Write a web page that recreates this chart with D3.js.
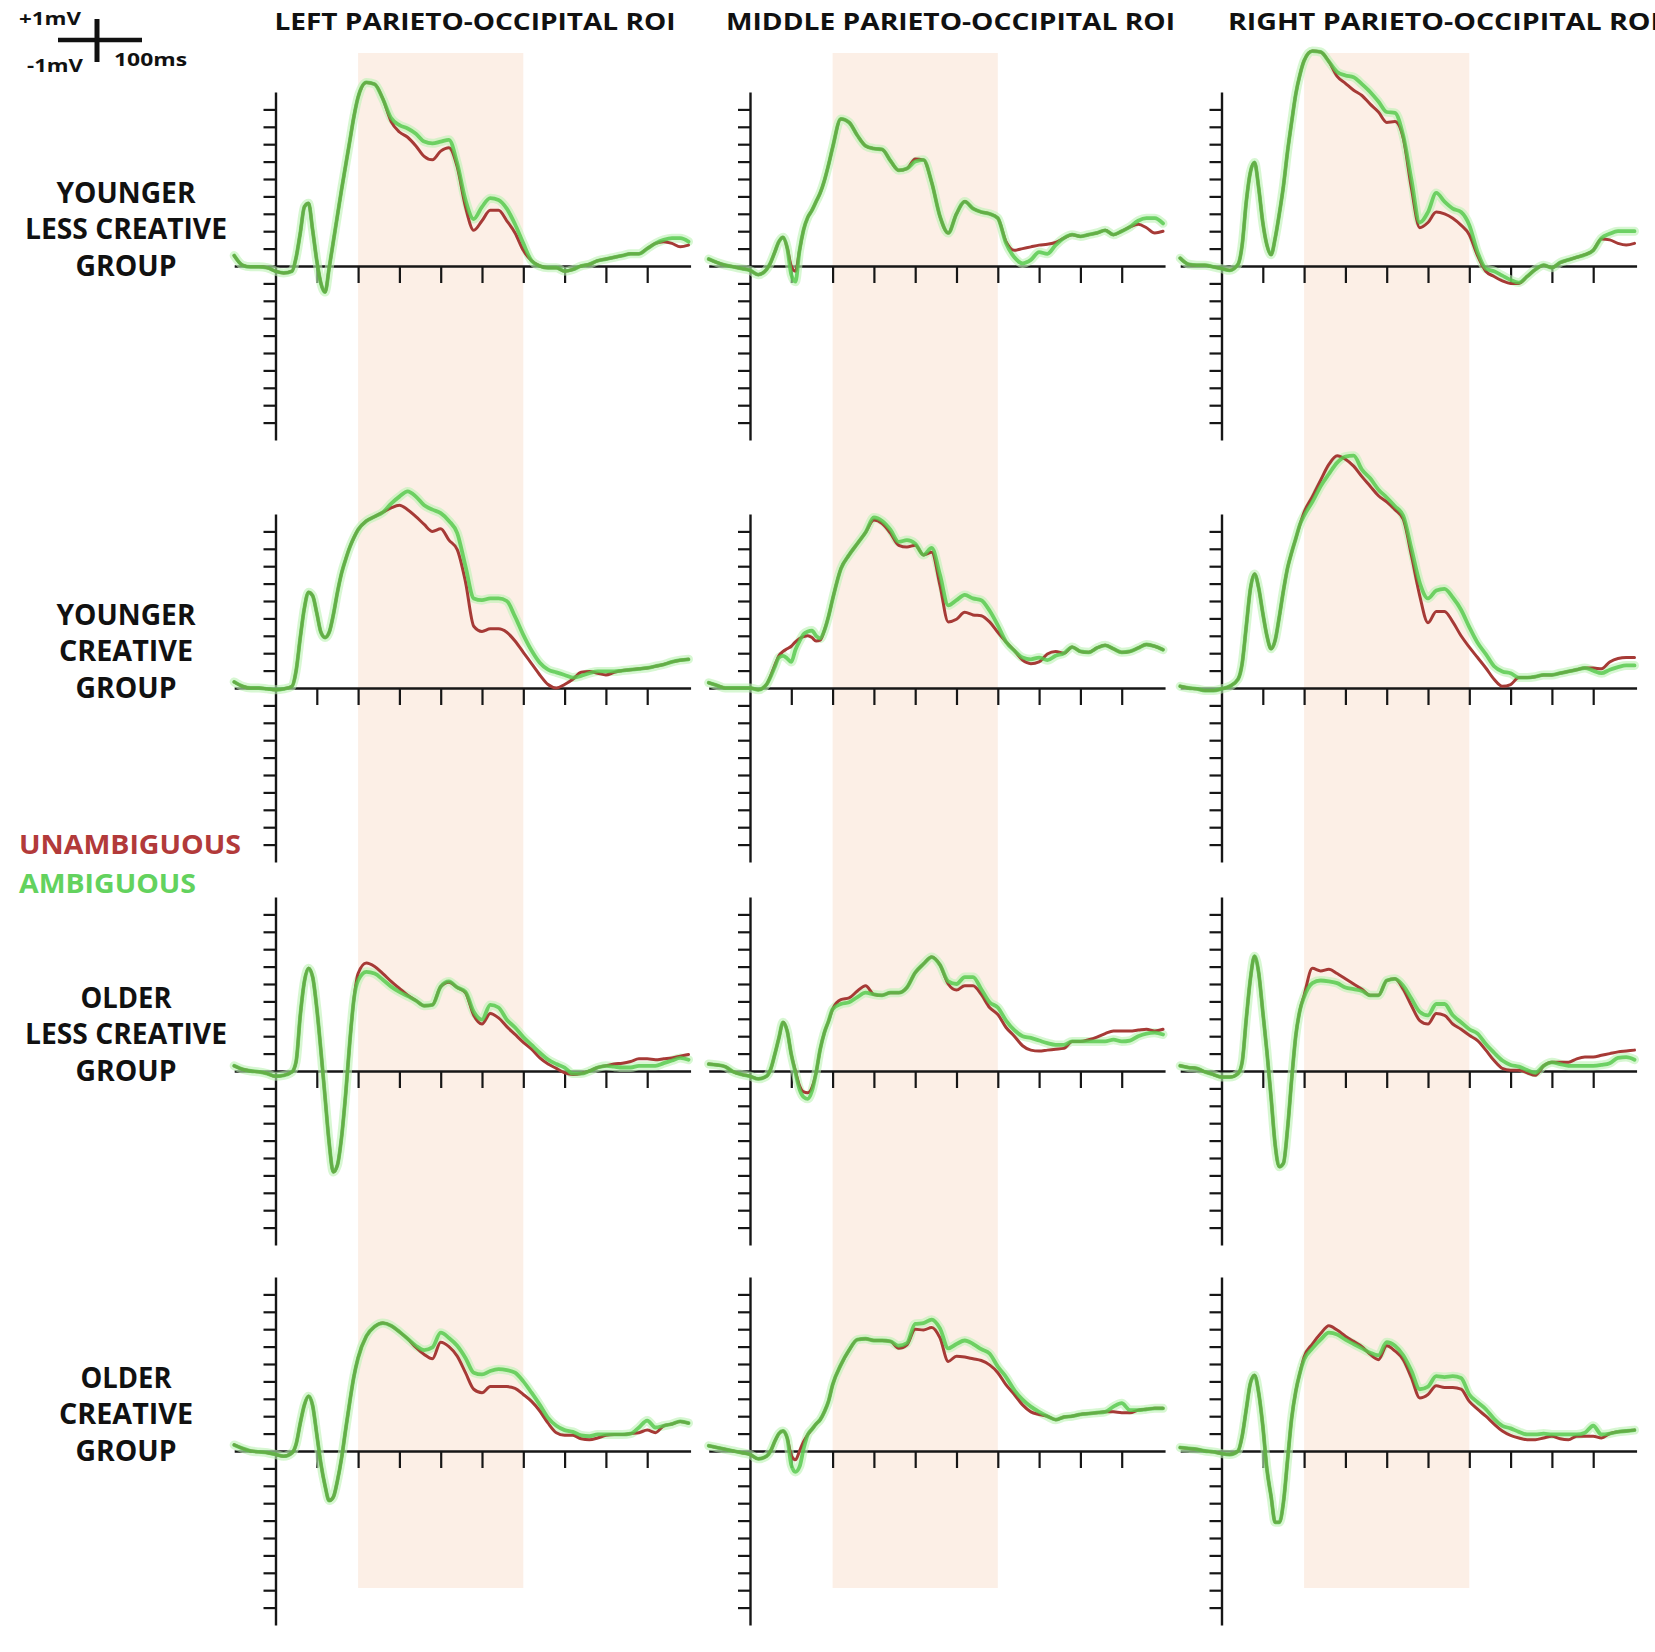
<!DOCTYPE html>
<html><head><meta charset="utf-8">
<script src="https://cdn.jsdelivr.net/npm/d3@7"></script>
<style>body{margin:0;background:#fff}svg{display:block}</style>
</head><body>
<svg id="chart" width="1655" height="1652"></svg>
<script>
// ---------- DATA ----------
const times = [-100,-80,-60,-40,-20,0,20,
  40,50,60,70,80,90,100,110,120,130,140,150,160,170,180,190,200,
  220,240,260,280,300,320,340,360,380,400,
  420,440,460,480,500,520,540,560,580,600,
  620,640,660,680,700,720,740,760,780,800,
  820,840,860,880,900,920,940,960,980,1000];

const roiTitles = ["LEFT PARIETO-OCCIPITAL ROI", "MIDDLE PARIETO-OCCIPITAL ROI", "RIGHT PARIETO-OCCIPITAL ROI"];
const groupLabels = [["YOUNGER","LESS CREATIVE","GROUP"],["YOUNGER","CREATIVE","GROUP"],["OLDER","LESS CREATIVE","GROUP"],["OLDER","CREATIVE","GROUP"]];
const seriesNames = ["UNAMBIGUOUS", "AMBIGUOUS"];
const xTicks = [100,200,300,400,500,600,700,800,900];
const yTicks = [-9,-8,-7,-6,-5,-4,-3,-2,-1,1,2,3,4,5,6,7,8,9];
const windowStart = 200, windowEnd = 600;

// Younger less creative
const ylcLeftUnamb = [0.6,0.05,-0.05,-0.05,-0.1,-0.3,-0.4,
  -0.3,0.5,1.9,3.4,3.6,2.05,0.3,-1.0,-1.5,-0.1,1.4,2.9,4.4,5.8,7.2,8.6,9.7,
  10.55,10.45,9.6,8.3,7.7,7.4,6.9,6.3,6.1,6.6,
  6.8,5.7,3.4,2.05,2.6,3.2,3.2,2.6,1.9,0.9,
  0.3,0.0,-0.1,-0.1,-0.3,-0.2,0.0,0.1,0.3,0.4,
  0.5,0.6,0.7,0.7,1.0,1.3,1.4,1.3,1.1,1.2];
const ylcLeftAmb = [0.6,0.05,-0.05,-0.05,-0.1,-0.3,-0.4,
  -0.3,0.5,1.9,3.4,3.6,2.05,0.3,-1.0,-1.5,-0.1,1.4,2.9,4.4,5.8,7.2,8.6,9.7,
  10.55,10.45,9.6,8.5,8.1,7.9,7.6,7.15,7.05,7.15,
  7.25,5.9,3.8,2.7,3.4,3.9,3.8,3.3,2.4,1.3,
  0.3,0.0,-0.1,-0.1,-0.3,-0.2,0.0,0.1,0.3,0.4,
  0.5,0.6,0.7,0.7,1.0,1.3,1.5,1.6,1.6,1.4];
const ylcMidUnamb = [0.4,0.2,0.05,-0.05,-0.15,-0.25,-0.5,
  -0.2,0.2,0.8,1.4,1.65,1.05,0.0,-0.3,0.9,2.1,2.8,3.2,3.7,4.2,4.9,5.8,6.8,
  8.45,8.25,7.5,6.9,6.75,6.7,6.05,5.5,5.6,6.15,
  6.1,4.8,2.85,1.9,3.0,3.7,3.3,3.1,3.0,2.75,
  1.4,0.9,1.0,1.1,1.2,1.25,1.35,1.6,1.8,1.7,
  1.8,1.9,2.05,1.8,2.0,2.25,2.4,2.2,1.9,2.0];
const ylcMidAmb = [0.4,0.2,0.05,-0.05,-0.15,-0.25,-0.5,
  -0.2,0.2,0.8,1.4,1.65,1.05,-0.5,-0.9,0.9,2.1,2.8,3.2,3.7,4.2,4.9,5.8,6.8,
  8.45,8.25,7.5,6.9,6.75,6.7,6.05,5.5,5.6,6.0,
  6.1,4.8,2.85,1.9,3.0,3.7,3.3,3.1,3.0,2.75,
  1.3,0.5,0.15,0.35,0.8,0.7,1.2,1.6,1.8,1.7,
  1.8,1.9,2.05,1.8,2.0,2.25,2.6,2.75,2.75,2.45];
const ylcRightUnamb = [0.45,0.1,0.05,0.05,-0.05,-0.15,-0.25,
  0.1,1.2,3.7,5.4,5.95,4.5,2.5,1.2,0.65,1.6,3.0,4.6,6.6,8.3,9.9,11.0,11.8,
  12.35,12.3,11.75,10.9,10.5,10.1,9.8,9.3,8.85,8.25,
  8.3,7.35,4.45,2.2,2.5,3.1,3.0,2.75,2.35,1.8,
  0.6,-0.3,-0.6,-0.85,-1.0,-1.0,-0.6,-0.2,0.05,-0.1,
  0.2,0.35,0.5,0.65,0.9,1.55,1.5,1.3,1.2,1.3];
const ylcRightAmb = [0.45,0.1,0.05,0.05,-0.05,-0.15,-0.25,
  0.1,1.2,3.7,5.4,5.95,4.5,2.5,1.2,0.65,1.6,3.0,4.6,6.6,8.3,9.9,11.0,11.8,
  12.35,12.3,11.75,11.15,10.95,10.85,10.45,10.0,9.45,8.85,
  8.8,7.5,4.95,2.5,3.1,4.2,3.7,3.3,3.1,2.35,
  0.8,-0.15,-0.3,-0.55,-0.8,-0.95,-0.6,-0.2,0.05,-0.1,
  0.2,0.35,0.5,0.65,0.9,1.6,1.85,2.0,2.0,2.0];

// Younger creative
const ycLeftUnamb = [0.35,0.1,0.0,0.0,-0.05,-0.1,-0.05,
  0.1,1.0,2.9,4.6,5.5,5.3,4.3,3.2,2.9,3.2,4.2,5.5,6.6,7.4,8.1,8.65,9.1,
  9.6,9.85,10.1,10.35,10.5,10.25,9.85,9.4,9.0,9.15,
  8.5,7.95,6.1,3.55,3.25,3.4,3.4,3.2,2.7,2.05,
  1.4,0.75,0.2,0.0,0.2,0.5,0.9,0.95,0.85,0.75,
  0.9,1.0,1.05,1.1,1.15,1.25,1.35,1.5,1.6,1.65];
const ycLeftAmb = [0.35,0.1,0.0,0.0,-0.05,-0.1,-0.05,
  0.1,1.0,2.9,4.6,5.5,5.3,4.3,3.2,2.9,3.2,4.2,5.5,6.6,7.4,8.1,8.65,9.1,
  9.6,9.85,10.1,10.6,11.0,11.3,11.0,10.5,10.25,10.05,
  9.6,8.9,7.0,5.15,5.05,5.15,5.15,5.0,4.1,3.05,
  2.15,1.45,1.05,0.9,0.75,0.6,0.7,0.85,0.95,0.95,
  0.95,1.0,1.05,1.1,1.15,1.25,1.35,1.5,1.6,1.65];
const ycMidUnamb = [0.3,0.15,0.0,0.0,0.0,0.0,-0.1,
  0.2,0.7,1.3,1.85,2.1,2.25,2.4,2.65,2.85,2.95,3.0,2.9,2.7,2.75,3.3,4.1,5.1,
  6.85,7.65,8.3,8.95,9.65,9.45,8.9,8.2,8.1,8.2,
  7.65,7.8,5.9,3.8,3.95,4.35,4.2,4.15,3.8,3.2,
  2.65,2.15,1.6,1.4,1.5,1.95,2.1,2.0,2.35,2.1,
  2.05,2.3,2.45,2.25,2.05,2.1,2.3,2.5,2.4,2.2];
const ycMidAmb = [0.3,0.15,0.0,0.0,0.0,0.0,-0.1,
  0.2,0.65,1.2,1.75,1.85,1.7,1.5,2.2,2.7,3.1,3.25,3.3,3.0,2.85,3.3,4.1,5.1,
  6.85,7.65,8.3,8.95,9.8,9.6,9.1,8.4,8.5,8.3,
  7.65,8.05,6.5,4.75,5.05,5.35,5.15,5.05,4.45,3.6,
  2.65,2.15,1.75,1.65,1.75,1.6,1.85,2.0,2.35,2.1,
  2.05,2.3,2.45,2.25,2.05,2.1,2.3,2.5,2.4,2.2];
const ycRightUnamb = [0.1,0.0,-0.05,-0.15,-0.15,-0.05,0.1,
  0.5,1.4,3.55,5.7,6.55,5.75,4.3,3.0,2.25,2.75,4.1,5.6,6.9,7.8,8.6,9.4,10.1,
  11.0,11.95,12.85,13.35,13.15,12.75,12.15,11.6,11.05,10.7,
  10.25,9.7,7.6,5.3,3.75,4.4,4.4,3.8,3.0,2.35,
  1.75,1.15,0.5,0.1,0.2,0.6,0.6,0.65,0.75,0.75,
  0.85,0.95,1.05,1.15,1.15,1.1,1.5,1.7,1.75,1.75];
const ycRightAmb = [0.1,0.0,-0.05,-0.15,-0.15,-0.05,0.1,
  0.5,1.4,3.55,5.7,6.55,5.75,4.3,3.0,2.25,2.75,4.1,5.6,6.9,7.8,8.6,9.4,9.9,
  10.7,11.6,12.3,12.95,13.3,13.35,12.55,12.05,11.4,10.95,
  10.45,9.9,8.0,6.05,5.15,5.6,5.7,5.2,4.5,3.5,
  2.6,1.95,1.25,0.95,0.85,0.6,0.6,0.65,0.75,0.75,
  0.85,0.95,1.05,1.15,1.0,0.85,1.05,1.2,1.3,1.3];

// Older less creative
const olcLeftUnamb = [0.3,0.1,0.0,-0.05,-0.15,-0.3,-0.25,
  -0.05,0.55,3.2,5.15,5.9,5.4,3.6,1.15,-1.5,-4.15,-5.8,-5.4,-3.8,-1.3,1.7,4.15,5.6,
  6.2,6.0,5.6,5.15,4.75,4.35,4.05,3.75,3.8,4.85,
  5.1,4.8,4.5,3.2,2.7,3.3,3.05,2.55,2.1,1.65,
  1.25,0.75,0.4,0.15,-0.1,-0.2,-0.15,0.0,0.2,0.3,
  0.4,0.45,0.55,0.7,0.7,0.65,0.7,0.75,0.85,0.95];
const olcLeftAmb = [0.3,0.1,0.0,-0.05,-0.15,-0.3,-0.25,
  -0.05,0.55,3.2,5.15,5.9,5.4,3.6,1.15,-1.5,-4.15,-5.8,-5.4,-3.8,-1.3,1.7,4.15,5.2,
  5.7,5.6,5.25,4.85,4.55,4.3,4.05,3.75,3.8,4.85,
  5.15,4.8,4.55,3.4,2.95,3.8,3.65,2.95,2.5,1.95,
  1.5,1.05,0.65,0.4,0.2,-0.15,-0.15,0.0,0.2,0.3,
  0.25,0.2,0.2,0.3,0.3,0.3,0.45,0.6,0.75,0.65];
const olcMidUnamb = [0.4,0.35,0.25,-0.05,-0.2,-0.3,-0.45,
  -0.3,0.1,0.95,1.9,2.8,2.3,0.95,0.0,-0.85,-1.2,-1.25,-0.95,-0.1,1.25,2.2,2.85,3.55,
  4.1,4.2,4.6,4.9,4.4,4.35,4.5,4.5,4.8,5.65,
  6.15,6.55,6.1,5.0,4.65,4.9,4.9,4.4,3.65,3.25,
  2.5,2.0,1.45,1.2,1.15,1.2,1.25,1.3,1.7,1.7,
  1.8,1.95,2.15,2.3,2.3,2.3,2.35,2.4,2.3,2.4];
const olcMidAmb = [0.4,0.35,0.25,-0.05,-0.2,-0.3,-0.45,
  -0.3,0.1,0.95,1.9,2.8,2.3,0.95,-0.1,-1.05,-1.5,-1.6,-1.15,-0.1,1.25,2.2,2.85,3.55,
  3.85,3.95,4.25,4.5,4.4,4.35,4.5,4.5,4.8,5.65,
  6.15,6.55,6.1,5.15,5.0,5.4,5.4,4.7,3.95,3.65,
  2.9,2.35,2.0,1.9,1.75,1.6,1.5,1.5,1.7,1.7,
  1.7,1.7,1.7,1.8,1.7,1.75,2.0,2.15,2.2,2.1];
const olcRightUnamb = [0.3,0.2,0.15,-0.05,-0.2,-0.35,-0.35,
  -0.15,0.5,3.0,5.3,6.6,5.65,3.4,1.1,-1.5,-4.25,-5.5,-5.3,-3.3,-0.45,2.05,3.5,4.35,
  5.9,5.75,5.85,5.6,5.3,5.0,4.7,4.35,4.35,5.2,
  5.3,4.7,3.75,2.9,2.7,3.3,3.2,2.7,2.4,2.05,
  1.75,1.2,0.6,0.15,0.05,0.05,-0.1,-0.25,0.3,0.5,
  0.5,0.5,0.7,0.8,0.8,0.9,1.0,1.1,1.15,1.2];
const olcRightAmb = [0.3,0.2,0.15,-0.05,-0.2,-0.35,-0.35,
  -0.15,0.5,3.0,5.3,6.6,5.65,3.4,1.1,-1.5,-4.25,-5.5,-5.3,-3.3,-0.45,2.05,3.5,4.25,
  5.05,5.2,5.15,5.05,4.8,4.7,4.6,4.35,4.35,5.2,
  5.3,4.9,4.15,3.4,3.2,3.85,3.85,3.2,2.8,2.4,
  2.15,1.55,1.05,0.6,0.35,0.25,0.05,-0.1,0.3,0.5,
  0.4,0.3,0.3,0.3,0.3,0.35,0.45,0.75,0.8,0.65];

// Older creative
const ocLeftUnamb = [0.35,0.15,0.0,-0.05,-0.1,-0.2,-0.3,
  -0.1,0.4,1.6,2.65,3.15,2.6,0.95,-0.75,-2.0,-2.85,-2.65,-1.7,-0.4,1.25,2.85,4.3,5.35,
  6.6,7.15,7.35,7.2,6.85,6.45,5.95,5.55,5.3,6.25,
  6.0,5.45,4.5,3.55,3.35,3.7,3.7,3.7,3.6,3.25,
  2.85,2.3,1.6,1.05,0.9,0.9,0.7,0.65,0.75,0.9,
  0.95,0.95,1.0,1.05,1.2,1.05,1.45,1.55,1.7,1.6];
const ocLeftAmb = [0.35,0.15,0.0,-0.05,-0.1,-0.2,-0.3,
  -0.1,0.4,1.6,2.65,3.15,2.6,0.95,-0.75,-2.0,-2.85,-2.65,-1.7,-0.4,1.25,2.85,4.3,5.35,
  6.6,7.15,7.35,7.2,6.85,6.45,6.05,5.8,5.95,6.8,
  6.5,6.05,5.35,4.5,4.4,4.6,4.7,4.65,4.5,4.0,
  3.35,2.65,1.9,1.45,1.2,1.1,0.9,0.85,0.95,0.95,
  0.95,0.95,1.0,1.35,1.75,1.35,1.45,1.55,1.7,1.6];
const ocMidUnamb = [0.3,0.2,0.1,0.0,-0.1,-0.2,-0.45,
  -0.3,0.0,0.55,1.0,1.15,0.75,-0.25,-0.5,0.0,0.55,0.95,1.25,1.55,1.8,2.25,2.85,3.8,
  4.95,5.8,6.4,6.45,6.35,6.35,6.3,5.9,6.1,7.0,
  6.95,7.1,6.5,5.15,5.45,5.4,5.3,5.2,4.95,4.5,
  3.8,3.25,2.65,2.25,2.1,2.0,1.8,1.95,2.0,2.1,
  2.15,2.2,2.25,2.25,2.2,2.2,2.35,2.4,2.45,2.45];
const ocMidAmb = [0.3,0.2,0.1,0.0,-0.1,-0.2,-0.45,
  -0.3,0.0,0.55,1.0,1.15,0.75,-0.8,-1.2,-0.9,0.15,0.95,1.25,1.55,1.8,2.25,2.85,3.8,
  4.95,5.8,6.4,6.45,6.35,6.35,6.3,6.05,6.2,7.3,
  7.35,7.55,7.05,5.9,6.15,6.35,6.15,5.85,5.6,4.85,
  4.25,3.5,2.95,2.55,2.25,2.0,1.8,1.95,2.0,2.1,
  2.15,2.2,2.25,2.55,2.75,2.35,2.35,2.4,2.45,2.45];
const ocRightUnamb = [0.2,0.15,0.1,0.0,-0.05,-0.15,-0.2,
  0.0,0.85,2.4,3.9,4.35,3.35,1.45,-1.05,-2.6,-4.1,-4.1,-2.95,-0.5,1.9,3.45,4.5,5.4,
  6.15,6.75,7.2,6.95,6.6,6.3,6.0,5.55,5.25,6.05,
  5.75,5.25,4.2,3.05,3.25,3.75,3.65,3.65,3.55,2.85,
  2.4,2.0,1.55,1.15,0.9,0.75,0.65,0.65,0.75,0.85,
  0.7,0.65,0.85,0.85,0.85,0.75,1.0,1.1,1.15,1.2];
const ocRightAmb = [0.2,0.15,0.1,0.0,-0.05,-0.15,-0.2,
  0.0,0.85,2.4,3.9,4.35,3.35,1.45,-1.05,-2.6,-4.1,-4.1,-2.95,-0.5,1.9,3.45,4.5,5.25,
  5.9,6.4,6.8,6.7,6.4,6.15,5.9,5.65,5.5,6.25,
  6.05,5.5,4.6,3.55,3.7,4.3,4.25,4.3,4.2,3.25,
  2.8,2.4,1.85,1.45,1.3,1.1,0.95,0.95,1.0,0.95,
  0.95,0.95,0.95,1.05,1.45,0.95,1.0,1.1,1.15,1.2];

const panels = [
  [[ylcLeftUnamb, ylcLeftAmb], [ylcMidUnamb, ylcMidAmb], [ylcRightUnamb, ylcRightAmb]],
  [[ycLeftUnamb, ycLeftAmb], [ycMidUnamb, ycMidAmb], [ycRightUnamb, ycRightAmb]],
  [[olcLeftUnamb, olcLeftAmb], [olcMidUnamb, olcMidAmb], [olcRightUnamb, olcRightAmb]],
  [[ocLeftUnamb, ocLeftAmb], [ocMidUnamb, ocMidAmb], [ocRightUnamb, ocRightAmb]]
];

// ---------- LAYOUT ----------
const colX = [275.5, 750, 1221.5];   // x of 0 ms (vertical axis)
const rowY = [266, 688, 1071, 1451]; // y of 0 uV (horizontal axis)
const msPx = 0.413, uvPx = 17.4;
const FONT = "'Open Sans', Lato, 'DejaVu Sans', sans-serif";
const RED = "#a63a36", GREEN = "#55c84c";

const svg = d3.select("#chart");
svg.append("rect").attr("width",1655).attr("height",1652).attr("fill","#fff");

function xScale(c) {
  return d3.scaleLinear().domain([-100, 1005]).range([colX[c] - 100*msPx, colX[c] + 1005*msPx]);
}
function yScale(r) {
  return d3.scaleLinear().domain([-10, 10]).range([rowY[r] + 10*uvPx, rowY[r] - 10*uvPx]);
}

// analysis window bands
colX.forEach((cx, c) => {
  const x = xScale(c);
  svg.append("rect")
    .attr("x", x(windowStart)).attr("width", x(windowEnd) - x(windowStart))
    .attr("y", 53).attr("height", 1535)
    .attr("fill", "#fcefe6");
});

// axes
const gAxes = svg.append("g");
for (let r = 0; r < 4; r++) {
  for (let c = 0; c < 3; c++) {
    const x = xScale(c), y = yScale(r);
    const gx = gAxes.append("g").attr("transform", `translate(0,${rowY[r]})`)
      .call(d3.axisBottom(x).tickValues(xTicks).tickSize(17).tickSizeOuter(0).tickFormat(""));
    const gy = gAxes.append("g").attr("transform", `translate(${colX[c]},0)`)
      .call(d3.axisLeft(y).tickValues(yTicks).tickSize(12).tickSizeOuter(0).tickFormat(""));
    [gx, gy].forEach(g => {
      g.select(".domain").attr("stroke", "#161616").attr("stroke-width", 2.4);
      g.selectAll(".tick line").attr("stroke", "#161616").attr("stroke-width", 2.2);
    });
  }
}

// waveforms
const gLines = svg.append("g").attr("fill", "none").attr("stroke-linejoin", "round").attr("stroke-linecap", "round");
for (let r = 0; r < 4; r++) {
  for (let c = 0; c < 3; c++) {
    const x = xScale(c), y = yScale(r);
    const line = d3.line().x((d, i) => x(times[i])).y(d => y(d)).curve(d3.curveMonotoneX);
    const [unamb, amb] = panels[r][c];
    gLines.append("path").attr("d", line(amb)).attr("stroke", "#bdf2b4").attr("stroke-width", 9).attr("stroke-opacity", 0.6);
    gLines.append("path").attr("d", line(unamb)).attr("stroke", RED).attr("stroke-width", 3);
    gLines.append("path").attr("d", line(amb)).attr("stroke", GREEN).attr("stroke-width", 3.8).attr("stroke-opacity", 0.82);
  }
}

// column titles
const titleSpec = [{x: 274.5, w: 401}, {x: 726, w: 449}, {x: 1228, w: 432}];
roiTitles.forEach((t, i) => {
  svg.append("text").text(t)
    .attr("x", titleSpec[i].x).attr("y", 30)
    .attr("textLength", titleSpec[i].w).attr("lengthAdjust", "spacingAndGlyphs")
    .attr("font-family", FONT).attr("font-weight", 700).attr("font-size", 24)
    .attr("fill", "#111");
});

// group labels
const labelWidths = {"YOUNGER": 139, "LESS CREATIVE": 202, "GROUP": 101, "CREATIVE": 134, "OLDER": 91};
groupLabels.forEach((lines, r) => {
  lines.forEach((t, k) => {
    const base = rowY[r] + 9.5 - (lines.length - 1 - k) * 36.5;
    const w = labelWidths[t];
    svg.append("text").text(t)
      .attr("x", 126 - w / 2).attr("y", base)
      .attr("textLength", w).attr("lengthAdjust", "spacingAndGlyphs")
      .attr("font-family", FONT).attr("font-weight", 700).attr("font-size", 28)
      .attr("fill", "#111");
  });
});

// legend
const legendSpec = [{y: 854, w: 222, fill: "#b23a3a"}, {y: 893, w: 177, fill: "#63d25e"}];
seriesNames.forEach((t, i) => {
  svg.append("text").text(t)
    .attr("x", 19).attr("y", legendSpec[i].y)
    .attr("textLength", legendSpec[i].w).attr("lengthAdjust", "spacingAndGlyphs")
    .attr("font-family", FONT).attr("font-weight", 700).attr("font-size", 26.5)
    .attr("fill", legendSpec[i].fill);
});

// scale bar
const sb = svg.append("g");
sb.append("line").attr("x1", 58).attr("x2", 142).attr("y1", 40).attr("y2", 40).attr("stroke", "#111").attr("stroke-width", 4.5);
sb.append("line").attr("x1", 97).attr("x2", 97).attr("y1", 19).attr("y2", 62).attr("stroke", "#111").attr("stroke-width", 5);
[{t: "+1mV", x: 19, y: 25, w: 62}, {t: "-1mV", x: 27, y: 72, w: 56}, {t: "100ms", x: 114, y: 66, w: 73}].forEach(s => {
  sb.append("text").text(s.t).attr("x", s.x).attr("y", s.y)
    .attr("textLength", s.w).attr("lengthAdjust", "spacingAndGlyphs")
    .attr("font-family", FONT).attr("font-weight", 700).attr("font-size", 18.5).attr("fill", "#111");
});
</script>
</body></html>
